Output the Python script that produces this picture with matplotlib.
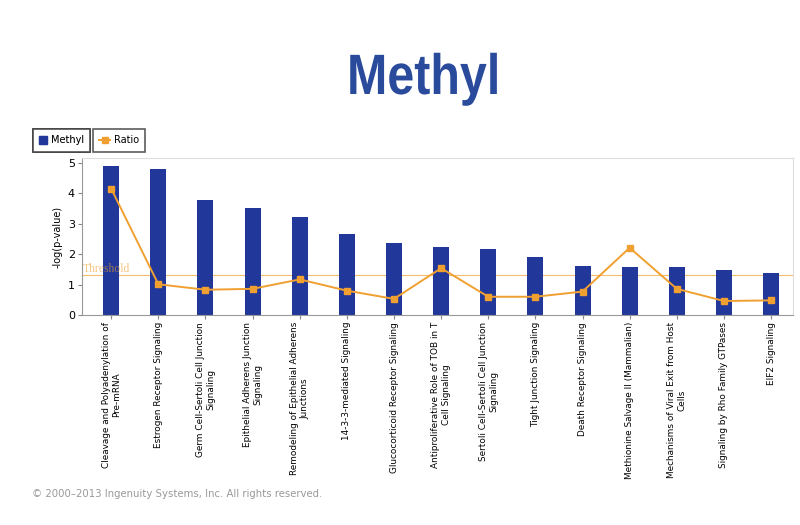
import matplotlib
matplotlib.use("Agg")
import matplotlib.pyplot as plt
from matplotlib.lines import Line2D
from matplotlib.patches import Patch
from matplotlib import patheffects
from matplotlib.transforms import Affine2D

categories = [
    "Cleavage and Polyadenylation of\nPre-mRNA",
    "Estrogen Receptor Signaling",
    "Germ Cell-Sertoli Cell Junction\nSignaling",
    "Epithelial Adherens Junction\nSignaling",
    "Remodeling of Epithelial Adherens\nJunctions",
    "14-3-3-mediated Signaling",
    "Glucocorticoid Receptor Signaling",
    "Antiproliferative Role of TOB in T\nCell Signaling",
    "Sertoli Cell-Sertoli Cell Junction\nSignaling",
    "Tight Junction Signaling",
    "Death Receptor Signaling",
    "Methionine Salvage II (Mammalian)",
    "Mechanisms of Viral Exit from Host\nCells",
    "Signaling by Rho Family GTPases",
    "EIF2 Signaling",
]
methyl = [4.91, 4.80, 3.77, 3.53, 3.21, 2.66, 2.36, 2.23, 2.18, 1.91, 1.61, 1.59, 1.57, 1.47, 1.38]
ratio = [4.15, 1.01, 0.83, 0.86, 1.17, 0.80, 0.53, 1.54, 0.60, 0.60, 0.77, 2.21, 0.86, 0.46, 0.48]
threshold = 1.30
yticks = [0, 1, 2, 3, 4, 5]

bar_color = "#22379a"
line_color = "#f0a030"


class Stretch(patheffects.AbstractPathEffect):
    """Draw text glyphs horizontally condensed (text stays a Text artist)."""
    def __init__(self, sx=1.0, sy=1.0):
        super().__init__()
        self.sx, self.sy = sx, sy

    def draw_path(self, renderer, gc, tpath, affine, rgbFace=None):
        renderer.draw_path(gc, tpath, Affine2D().scale(self.sx, self.sy) + affine, rgbFace)


fig = plt.figure(figsize=(8, 5.25), dpi=100)
ax = fig.add_axes([0.1025, 0.4, 0.889, 0.299])

x = list(range(len(categories)))
ax.bar(x, methyl, width=0.34, color=bar_color, zorder=2)
ax.plot(x, ratio, color=line_color, lw=1.4, marker="s", markersize=5,
        markerfacecolor=line_color, markeredgecolor=line_color, zorder=3)
ax.axhline(threshold, color=line_color, lw=0.8, alpha=0.7, zorder=1)
ax.text(-0.6, threshold + 0.02, "Threshold", color=line_color, alpha=0.6,
        fontsize=8.5, family="Liberation Serif", va="bottom", ha="left")

ax.set_xlim(-0.62, 14.47)
ax.set_ylim(0, 5.16)
ax.set_yticks(yticks)
ax.set_yticklabels([str(t) for t in yticks], fontsize=8)
ax.set_xticks(x)
ax.set_xticklabels(categories, rotation=90, fontsize=6.4, ha="center", va="top",
                   multialignment="center")
ax.tick_params(axis="x", length=3, pad=2, color="#888888")
ax.tick_params(axis="y", length=3, pad=2, color="#888888")
ax.set_ylabel("-log(p-value)", fontsize=7, labelpad=4)

for s in ["left", "bottom"]:
    ax.spines[s].set_color("#999999")
for s in ["top", "right"]:
    ax.spines[s].set_color("#dddddd")

fig.text(347 / 800, 1 - 94 / 525, "Methyl", ha="left", va="baseline", fontsize=41,
         fontweight="bold", color="#2a4b9b", family="Liberation Sans",
         path_effects=[Stretch(0.85, 1.0)])

leg1 = fig.legend(handles=[Patch(facecolor=bar_color, edgecolor=bar_color)],
                  labels=["Methyl"], loc="upper left",
                  bbox_to_anchor=(33 / 800, 1 - 129 / 525), borderaxespad=0,
                  fontsize=7, frameon=True,
                  handlelength=0.8, handleheight=0.8, handletextpad=0.4,
                  borderpad=0.65, fancybox=False, edgecolor="#333333")
leg1.get_frame().set_linewidth(1.2)
leg2 = fig.legend(handles=[Line2D([0], [0], color=line_color, marker="s",
                                  markersize=4, lw=1.4)],
                  labels=["Ratio"], loc="upper left",
                  bbox_to_anchor=(93 / 800, 1 - 129 / 525), borderaxespad=0,
                  fontsize=7, frameon=True,
                  handlelength=1.1, handletextpad=0.4,
                  borderpad=0.65, fancybox=False, edgecolor="#333333")
leg2.get_frame().set_linewidth(1.2)
fig.add_artist(leg1)

fig.text(0.04, 0.059, "\u00a9 2000\u20132013 Ingenuity Systems, Inc. All rights reserved.",
         fontsize=7.3, color="#999999", ha="left", va="center")

fig.savefig("out.png", dpi=100)
